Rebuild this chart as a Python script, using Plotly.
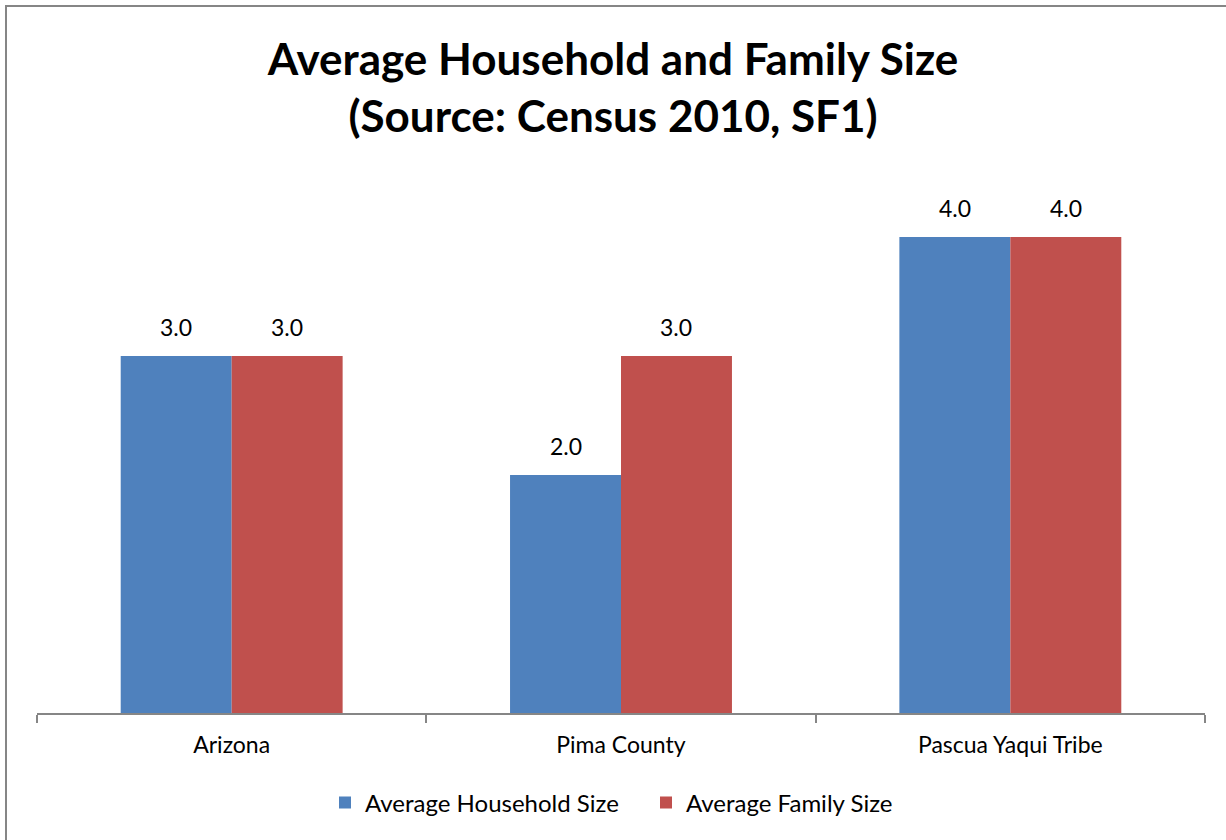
import plotly.graph_objects as go

categories = ["Arizona", "Pima County", "Pascua Yaqui Tribe"]
household_size = [3.0, 2.0, 4.0]
family_size = [3.0, 3.0, 4.0]
series_names = ["Average Household Size", "Average Family Size"]

BLUE = "#4F81BD"
RED = "#C0504D"
FONT = "Lato"

L, R, T, B = 37, 21, 118, 127
W, H = 1226, 840
pw, ph = W - L - R, H - T - B

fig = go.Figure()
fig.add_trace(go.Bar(x=categories, y=household_size, name=series_names[0],
                     marker=dict(color=BLUE, line=dict(width=0))))
fig.add_trace(go.Bar(x=categories, y=family_size, name=series_names[1],
                     marker=dict(color=RED, line=dict(width=0))))

off = 0.1425
for i, c in enumerate(categories):
    for vals, d in ((household_size, -off), (family_size, off)):
        fig.add_annotation(x=i + d, y=vals[i], xref="x", yref="y",
                           text=f"{vals[i]:.1f}", showarrow=False,
                           yanchor="bottom", yshift=13,
                           font=dict(family=FONT, size=23, color="black"))

# outer chart border
fig.add_shape(type="rect", xref="paper", yref="paper",
              x0=(6 - L) / pw, x1=(1240 - L) / pw,
              y0=(H - B - 850) / ph, y1=(H - B - 6) / ph,
              line=dict(color="#868686", width=2), fillcolor="rgba(0,0,0,0)",
              layer="below")

fig.update_layout(
    width=W, height=H,
    margin=dict(l=L, r=R, t=T, b=B, pad=0),
    paper_bgcolor="white", plot_bgcolor="white",
    barmode="group", bargap=0.43, bargroupgap=0,
    title=dict(text="Average Household and Family Size<br>(Source: Census 2010, SF1)",
               x=0.5, xanchor="center", y=1 - 75 / H, yanchor="middle",
               font=dict(family=FONT, size=44, color="black", weight="bold")),
    xaxis=dict(type="category", showline=True, linecolor="#868686", linewidth=2,
               ticks="outside", tickson="boundaries", ticklen=8, tickwidth=2,
               tickcolor="#868686", showgrid=False,
               tickfont=dict(family=FONT, size=23, color="black"),
               ticklabelstandoff=10),
    yaxis=dict(range=[0, 5], visible=False, showgrid=False),
    legend=dict(orientation="h", x=0.5 + 25 / pw, xanchor="center", y=-90 / ph,
                yanchor="middle", font=dict(family=FONT, size=24, color="black"),
                itemwidth=30, entrywidth=276, entrywidthmode="pixels",
                tracegroupgap=0),
    showlegend=True,
)

fig.write_html("out.html", config={"displayModeBar": False},
               post_script="document.body.style.margin='0';")
